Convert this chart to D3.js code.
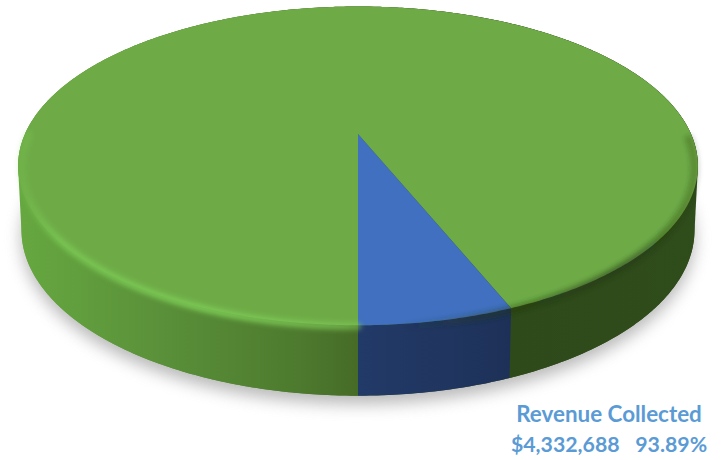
<!DOCTYPE html>
<html lang="en">
<head>
<meta charset="UTF-8">
<title>Revenue Collected</title>
<script src="https://d3js.org/d3.v7.min.js"></script>
<style>
  html, body { margin: 0; padding: 0; background: #fff; }
  svg { display: block; }
  .note { font-family: Lato, "Open Sans", sans-serif; font-weight: 700; fill: #5B9BD5; }
</style>
</head>
<body>
<div id="chart"></div>
<script>
const sliceNames = ["Revenue Collected", "Other"];
const sliceShares = [93.89, 6.11];
const topColors = ["#6EAB47", "#4070BF"];
const noteLines = ["Revenue Collected", "$4,332,688   93.89%"];

const width = 721, height = 460;
// tilted disc, seen in perspective
const cx = 358, cy = 134, k = 0.2, radX = 333, radY = 153, depth = 63;

function project(angle, drop) {
  const u = Math.sin(angle), v = -Math.cos(angle);
  const w = 1 / (1 - k * v);
  // lower ring sits further from the camera, so it is a little narrower
  const shrink = drop > 0 ? 0.99 : 1;
  return [cx + radX * u * w * shrink, cy + radY * v * w + drop * Math.sqrt(w)];
}
function ring(a0, a1, drop) {
  const n = Math.max(2, Math.ceil(Math.abs(a1 - a0) / 0.01));
  return d3.range(n + 1).map(i => project(a0 + (a1 - a0) * i / n, drop));
}
const line = d3.line();

const pie = d3.pie().sort(null).startAngle(Math.PI).endAngle(3 * Math.PI);
const slices = pie(sliceShares);

const svg = d3.select("#chart").append("svg").attr("width", width).attr("height", height);
const defs = svg.append("defs");

[["blur10", 8], ["blur3", 2.4]].forEach(([id, s]) => {
  defs.append("filter").attr("id", id)
    .attr("x", "-10%").attr("y", "-10%").attr("width", "120%").attr("height", "120%")
    .append("feGaussianBlur").attr("stdDeviation", s);
});

function gradient(id, stops) {
  const g = defs.append("linearGradient").attr("id", id)
    .attr("gradientUnits", "userSpaceOnUse")
    .attr("x1", 17).attr("x2", 700).attr("y1", 0).attr("y2", 0);
  stops.forEach(([x, c, o]) => {
    g.append("stop").attr("offset", (x - 17) / 683).attr("stop-color", c).attr("stop-opacity", o === undefined ? 1 : o);
  });
}
gradient("sideGreen", [[17, "#66a840"], [150, "#5b923a"], [300, "#4d7a2e"], [358, "#466b27"], [500, "#344f1d"], [510, "#2f4a1a"], [700, "#2f4c1b"]]);
gradient("sideBlue", [[358, "#223a68"], [450, "#20355f"], [510, "#1d3158"]]);
gradient("rimLight", [[17, "#78c850", 0.2], [60, "#7ccb55", 0.75], [200, "#7ccb55", 0.95], [340, "#80cc58", 0.7], [430, "#80cc58", 0], [700, "#80cc58", 0]]);
gradient("rimDark", [[400, "#1e3410", 0], [500, "#1e3410", 0.35], [620, "#1e3410", 0.55], [697, "#1e3410", 0.25]]);

// soft shadow under the disc
svg.append("path")
  .attr("d", line(ring(0, 2 * Math.PI, depth + 3)) + "Z")
  .attr("fill", "#8a8a8a")
  .attr("opacity", 0.6)
  .attr("filter", "url(#blur10)")
  .attr("transform", "translate(0,5)");

// side wall: hull of both rings for the green, blue wedge on top of it
const hull = d3.polygonHull(ring(0, 2 * Math.PI, 0).concat(ring(0, 2 * Math.PI, depth)));
svg.append("path").attr("d", line(hull) + "Z").attr("fill", "url(#sideGreen)");

const sideFill = ["url(#sideGreen)", "url(#sideBlue)"];
svg.selectAll(".side").data(slices).join("path")
  .attr("class", "side")
  .attr("fill", (d, i) => sideFill[i])
  .attr("d", d => line(ring(d.startAngle, d.endAngle, 0).concat(ring(d.endAngle, d.startAngle, depth))) + "Z");

// top face
svg.selectAll(".top").data(slices).join("path")
  .attr("class", "top")
  .attr("fill", (d, i) => topColors[i])
  .attr("d", d => line([[cx, cy]].concat(ring(d.startAngle, d.endAngle, 0))) + "Z");

// bevel round the rim: dark on the lower right, light on the lower left
const frontRight = line(ring(0.25 * Math.PI * 2, 0.5 * Math.PI * 2, 2));
svg.append("path").attr("d", frontRight).attr("fill", "none")
  .attr("stroke", "url(#rimDark)").attr("stroke-width", 8).attr("filter", "url(#blur3)");
const frontLeft = line(ring(0.5 * Math.PI * 2, 0.75 * Math.PI * 2, 1));
svg.append("path").attr("d", frontLeft).attr("fill", "none")
  .attr("stroke", "url(#rimLight)").attr("stroke-width", 7).attr("stroke-linecap", "round").attr("filter", "url(#blur3)");

const noteSizes = [22.4, 21.3];
svg.selectAll(".note").data(noteLines).join("text")
  .attr("class", "note")
  .attr("x", 609)
  .attr("y", (d, i) => 422 + i * 30)
  .attr("text-anchor", "middle")
  .style("font-size", (d, i) => noteSizes[i] + "px")
  .style("white-space", "pre")
  .text(d => d);
</script>
</body>
</html>
